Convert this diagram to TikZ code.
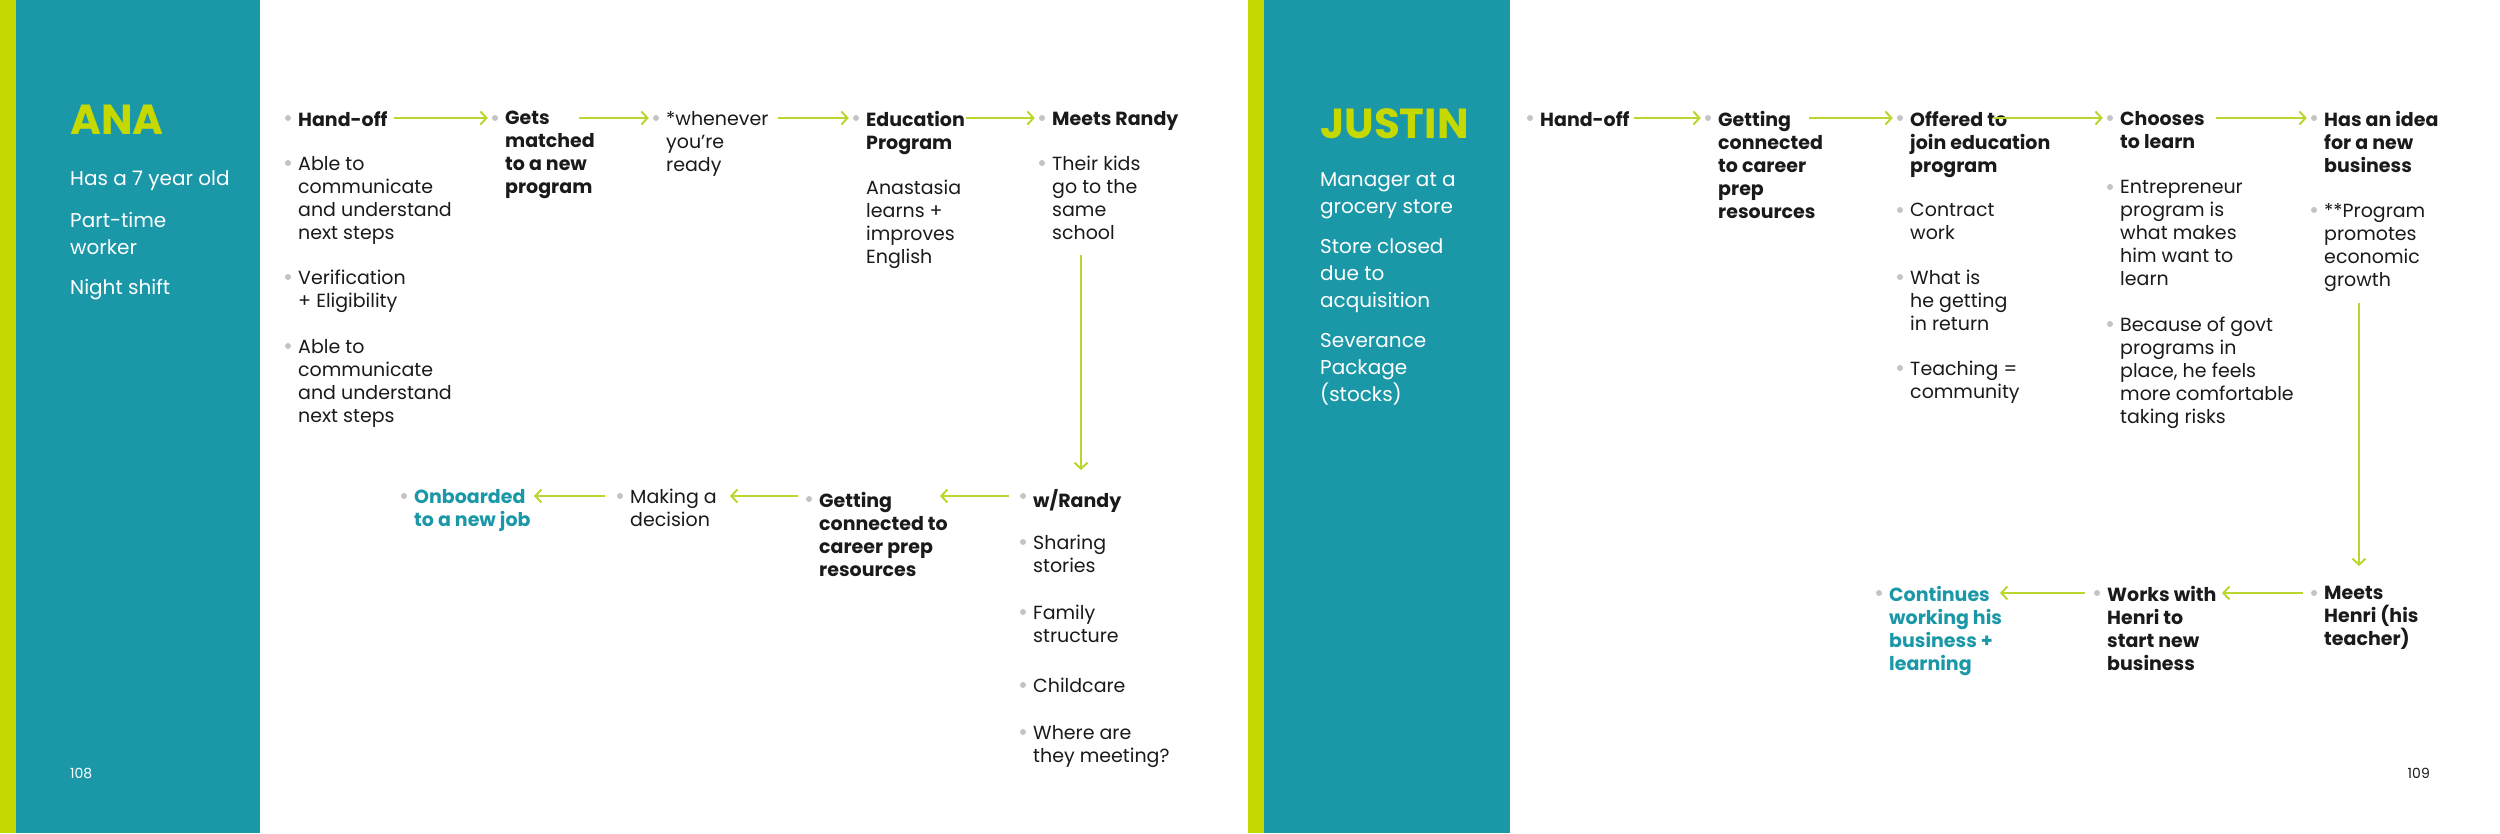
\documentclass[tikz,border=0pt]{standalone}
\usepackage{fontspec}
\setmainfont{Poppins}
\usetikzlibrary{arrows.meta}
\definecolor{teal}{HTML}{1A98A8}
\definecolor{lime}{HTML}{C5D800}
\definecolor{flowlime}{HTML}{BCD630}
\definecolor{dotgray}{HTML}{C4C4C4}
\definecolor{ink}{HTML}{1A1A1A}
\newcommand*{\crumb}[5][txt]{%
  \node [dot] (#2d) at (#3,#4) [xshift=-10pt] {};
  \node [#1] (#2) at (#3,#4) [yshift=7pt] {#5};
}
\begin{document}
\begin{tikzpicture}[x=1pt,y=1pt,
  txt/.style = {anchor=north west, inner sep=0pt, align=left,
                font=\fontsize{19}{23}\selectfont, text=ink},
  hd/.style = {txt, font=\fontsize{19}{23}\selectfont\bfseries},
  goal/.style = {hd, text=teal},
  side/.style = {anchor=north west, inner sep=0pt, align=left,
                 font=\fontsize{20}{27}\selectfont, text=white},
  title/.style = {anchor=west, inner sep=0pt,
                  font=\fontsize{42}{42}\selectfont\bfseries, text=lime},
  dot/.style = {circle, fill=dotgray, inner sep=0pt, minimum size=6pt},
  flow/.style = {draw=flowlime, line width=2pt,
                 -{Straight Barb[length=6pt,width=13pt,line width=2pt]}}]
  \useasboundingbox (0,0) rectangle (2500,833);
  % pages
  \fill[white] (0,0) rectangle (2500,833);
  \fill[lime] (0,0) rectangle (16,833);
  \fill[teal] (16,0) rectangle (260,833);
  \fill[lime] (1248,0) rectangle (1264,833);
  \fill[teal] (1264,0) rectangle (1510,833);

  % ---- Ana ----
  \node[title] (ana) at (70,713) {ANA};
  \node[side] (ana1) at (70,662) {Has a 7 year old};
  \node[side] (ana2) at (70,621) {Part-time\\worker};
  \node[side] (ana3) at (70,554) {Night shift};

  \crumb[hd]{handoff}{298}{715}{Hand-off}
  \crumb[txt]{able}{298}{670}{Able to\\communicate\\and understand\\next steps}
  \crumb[txt]{verif}{298}{556}{Verification\\+ Eligibility}
  \crumb[txt]{ablea}{298}{487}{Able to\\communicate\\and understand\\next steps}
  \crumb[hd]{matched}{505}{715}{Gets\\matched\\to a new\\program}
  \crumb[txt]{whenever}{666}{715}{*whenever\\you're\\ready}
  \crumb[hd]{edu}{866}{715}{Education\\Program}
  \node[txt] (anast) at (866,646) [yshift=7pt] {Anastasia\\learns +\\improves\\English};
  \crumb[hd]{randy}{1052}{715}{Meets Randy}
  \crumb[txt]{kids}{1052}{670}{Their kids\\go to the\\same\\school}

  \crumb[hd]{wrandy}{1033}{337}{w/Randy}
  \crumb[txt]{sharing}{1033}{291}{Sharing\\stories}
  \crumb[txt]{family}{1033}{221}{Family\\structure}
  \crumb[txt]{childcare}{1033}{148}{Childcare}
  \crumb[txt]{where}{1033}{101}{Where are\\they meeting?}
  \crumb[hd]{getting}{819}{334}{Getting\\connected to\\career prep\\resources}
  \crumb[txt]{making}{630}{337}{Making a\\decision}
  \crumb[goal]{onboard}{414}{337}{Onboarded\\to a new job}

  \coordinate (a1) at (394,715);
  \coordinate (a2) at (579,715);
  \coordinate (a3) at (778,715);
  \coordinate (a4) at (966,715);
  \draw[flow, shorten >=4pt] (a1) -- (matchedd);
  \draw[flow, shorten >=4pt] (a2) -- (wheneverd);
  \draw[flow, shorten >=4pt] (a3) -- (edud);
  \draw[flow, shorten >=4pt] (a4) -- (randyd);
  \coordinate (v1) at (1081,578);
  \coordinate (v1e) at (1081,363);
  \draw[flow] (v1) -- (v1e);
  \coordinate (b1) at (940,337);
  \coordinate (b2) at (730,337);
  \coordinate (b3) at (534,337);
  \draw[flow, shorten <=11pt] (wrandyd) -- (b1);
  \draw[flow, shorten <=11pt] (gettingd.center |- b2) -- (b2);
  \draw[flow, shorten <=12pt] (makingd) -- (b3);

  \node[anchor=base west, inner sep=0pt, font=\fontsize{14}{14}\selectfont, text=white]
    (p108) at (70,55) {108};

  % ---- Justin ----
  \node[title] (justin) at (1320,709) {JUSTIN};
  \node[side] (jus1) at (1320,661) {Manager at a\\grocery store};
  \node[side] (jus2) at (1320,594) {Store closed\\due to\\acquisition};
  \node[side] (jus3) at (1320,500) {Severance\\Package\\(stocks)};

  \crumb[hd]{handoffb}{1540}{715}{Hand-off}
  \crumb[hd]{careerprep}{1718}{715}{Getting\\connected\\to career\\prep\\resources}
  \crumb[hd]{offered}{1910}{715}{Offered to\\join education\\program}
  \crumb[txt]{contract}{1910}{623}{Contract\\work}
  \crumb[txt]{whatis}{1910}{556}{What is\\he getting\\in return}
  \crumb[txt]{teaching}{1910}{465}{Teaching =\\community}
  \crumb[hd]{chooses}{2120}{715}{Chooses\\to learn}
  \crumb[txt]{entre}{2120}{646}{Entrepreneur\\program is\\what makes\\him want to\\learn}
  \crumb[txt]{because}{2120}{509}{Because of govt\\programs in\\place, he feels\\more comfortable\\taking risks}
  \crumb[hd]{idea}{2324}{715}{Has an idea\\for a new\\business}
  \crumb[txt]{promotes}{2324}{623}{**Program\\promotes\\economic\\growth}

  \crumb[hd]{henri}{2324}{240}{Meets\\Henri (his\\teacher)}
  \crumb[hd]{works}{2107}{240}{Works with\\Henri to\\start new\\business}
  \crumb[goal]{continues}{1889}{240}{Continues\\working his\\business +\\learning}

  \coordinate (c1) at (1634,715);
  \coordinate (c2) at (1809,715);
  \coordinate (c3) at (1993,715);
  \coordinate (c4) at (2216,715);
  \draw[flow, shorten >=4pt] (c1) -- (careerprepd);
  \draw[flow, shorten >=4pt] (c2) -- (offeredd);
  \draw[flow, shorten >=4pt] (c3) -- (choosesd);
  \draw[flow, shorten >=4pt] (c4) -- (idead);
  \coordinate (v2) at (2359,530);
  \coordinate (v2e) at (2359,267);
  \draw[flow] (v2) -- (v2e);
  \coordinate (d1) at (2222,240);
  \coordinate (d2) at (2000,240);
  \draw[flow, shorten <=8pt] (henrid) -- (d1);
  \draw[flow, shorten <=9pt] (worksd) -- (d2);

  \node[anchor=base east, inner sep=0pt, font=\fontsize{14}{14}\selectfont, text=ink]
    (p109) at (2430,55) {109};
\end{tikzpicture}
\end{document}
